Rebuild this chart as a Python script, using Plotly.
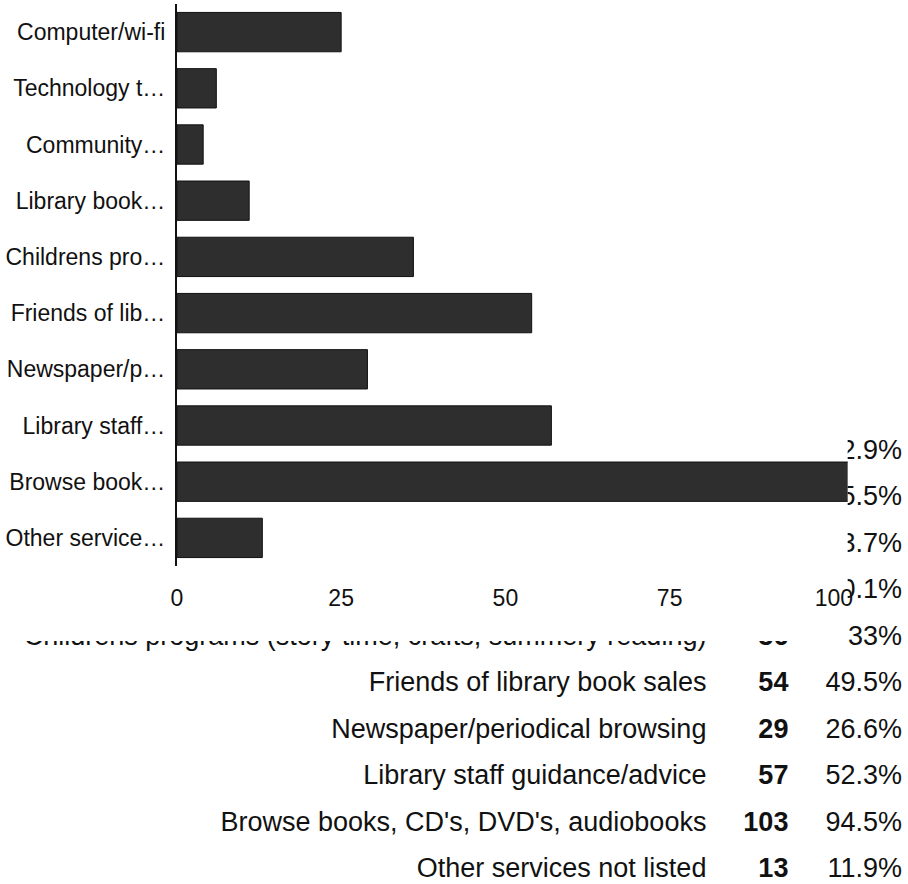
import plotly.graph_objects as go

# ---------------- data ----------------
short_labels = ["Computer/wi-fi", "Technology t…", "Community…", "Library book…",
                "Childrens pro…", "Friends of lib…", "Newspaper/p…", "Library staff…",
                "Browse book…", "Other service…"]
counts = [25, 6, 4, 11, 36, 54, 29, 57, 103, 13]
percents = ["22.9%", "5.5%", "3.7%", "10.1%", "33%", "49.5%", "26.6%", "52.3%",
            "94.5%", "11.9%"]
table_labels = ["Computer/wi-fi", "Technology t…", "Community…", "Library book…",
                "Childrens programs (story time, crafts, summery reading)",
                "Friends of library book sales", "Newspaper/periodical browsing",
                "Library staff guidance/advice", "Browse books, CD's, DVD's, audiobooks",
                "Other services not listed"]
x_ticks = [0, 25, 50, 75, 100]

# ---------------- layout constants (pixels) ----------------
W, H = 908, 884
plot_l, plot_r = 173, 852
plot_t, plot_b = 4, 566
x_max = 102.1
row0_y, row_step = 452, 46.5
cover_b = 641          # lower edge of the chart image that covers the table
col_label_x, col_count_x, col_pct_x = 709, 792, 907

FONT = "Liberation Sans, Arial, sans-serif"
TABLE_SIZE = 27
rows = list(range(len(counts)))

fig = go.Figure()

# main bar chart
fig.add_trace(go.Bar(
    x=counts, y=short_labels, orientation="h",
    marker=dict(color="#2e2e2e", line=dict(color="#111111", width=1)),
    xaxis="x", yaxis="y", showlegend=False, hoverinfo="skip",
))

# table beneath (clipped by the chart on top)
def table_traces(xa, ya, with_labels):
    out = []
    if with_labels:
        out.append(go.Scatter(x=[col_label_x] * len(rows), y=rows, mode="text",
                              text=table_labels, textposition="middle left",
                              textfont=dict(family=FONT, size=TABLE_SIZE, color="#111111"),
                              cliponaxis=True, xaxis=xa, yaxis=ya,
                              showlegend=False, hoverinfo="skip"))
        out.append(go.Scatter(x=[col_count_x] * len(rows), y=rows, mode="text",
                              text=[f"<b>{c}</b>" for c in counts],
                              textposition="middle left",
                              textfont=dict(family=FONT, size=TABLE_SIZE, color="#111111"),
                              cliponaxis=True, xaxis=xa, yaxis=ya,
                              showlegend=False, hoverinfo="skip"))
    out.append(go.Scatter(x=[col_pct_x] * len(rows), y=rows, mode="text",
                          text=percents, textposition="middle left",
                          textfont=dict(family=FONT, size=TABLE_SIZE, color="#111111"),
                          cliponaxis=True, xaxis=xa, yaxis=ya,
                          showlegend=False, hoverinfo="skip"))
    return out

for t in table_traces("x2", "y2", True):
    fig.add_trace(t)
for t in table_traces("x3", "y3", False):
    fig.add_trace(t)

def idx(px):
    return (px - row0_y) / row_step

hidden = dict(visible=False, showgrid=False, zeroline=False, fixedrange=True)

fig.update_layout(
    width=W, height=H, autosize=False,
    margin=dict(l=0, r=0, t=0, b=0),
    paper_bgcolor="white", plot_bgcolor="rgba(0,0,0,0)",
    bargap=0.3,
    font=dict(family=FONT, color="#111111"),
    xaxis=dict(domain=[plot_l / W, plot_r / W], range=[0, x_max],
               tickvals=x_ticks, ticks="", showgrid=False, zeroline=False,
               showline=False, tickfont=dict(size=23, color="#111111"),
               ticklabelstandoff=16, anchor="y"),
    yaxis=dict(domain=[1 - plot_b / H, 1 - plot_t / H], autorange="reversed",
               type="category", ticks="", showgrid=False, zeroline=False,
               showline=True, linecolor="#111111", linewidth=2,
               tickfont=dict(size=23, color="#111111"), ticklabelstandoff=5,
               anchor="x"),
    xaxis2=dict(domain=[0, 1], range=[0, W], anchor="y2", **hidden),
    yaxis2=dict(domain=[0, 1 - cover_b / H], range=[idx(H), idx(cover_b)],
                anchor="x2", **hidden),
    xaxis3=dict(domain=[plot_r / W, 1], range=[plot_r, W], anchor="y3", **hidden),
    yaxis3=dict(domain=[1 - cover_b / H, 1], range=[idx(cover_b), idx(0)],
                anchor="x3", **hidden),
)

fig.write_html(
    "out.html",
    config={"displayModeBar": False, "staticPlot": True},
    post_script="document.body.style.margin='0';document.body.style.overflow='hidden';",
)
